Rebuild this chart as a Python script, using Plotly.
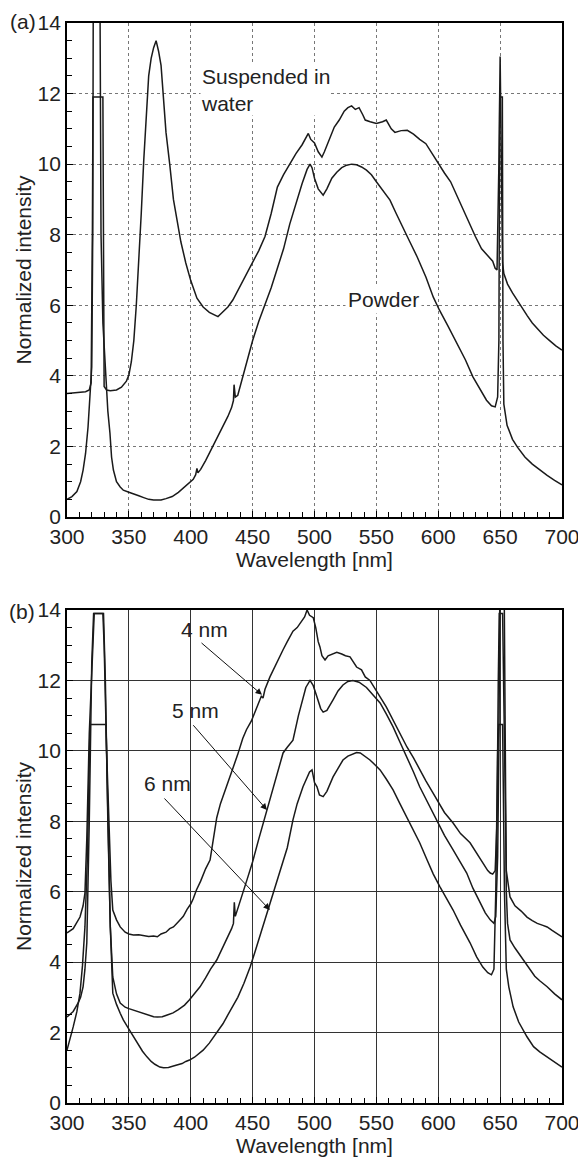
import plotly.graph_objects as go

# ---------------- Panel (a) ----------------
water_wl = [300, 305, 310, 315, 318, 319.5, 320.5, 321, 329, 329.5, 330, 332, 335, 340, 344, 348, 350, 352, 354, 356,
            358, 360, 362, 364, 366, 368, 370, 372, 374, 376, 378, 380, 383, 386, 389, 392, 396, 400, 405, 410,
            415, 420, 422, 425, 430, 434, 440, 445, 450, 455, 460, 465, 470, 475, 480, 485, 490, 493, 495, 497,
            500, 503, 506, 508, 512, 516, 520, 524, 527, 530, 533, 536, 539, 541, 545, 550, 555, 558, 562, 565,
            570, 575, 580, 585, 590, 595, 600, 605, 610, 615, 620, 625, 630, 635, 640, 644, 646, 647.5, 649, 650,
            651, 652, 653, 656, 660, 664, 668, 672, 676, 680, 685, 690, 695, 700]
water_val = [3.50, 3.52, 3.53, 3.55, 3.60, 3.8, 8.0, 11.9, 11.9, 6.0, 3.7, 3.60, 3.58, 3.60, 3.68, 3.85, 4.02, 4.4, 5.0, 6.0,
             7.2, 8.6, 10.1, 11.3, 12.5, 13.0, 13.3, 13.5, 13.2, 12.8, 11.8, 10.9, 10.0, 9.0, 8.4, 7.8, 7.2, 6.7, 6.2, 5.95,
             5.8, 5.72, 5.68, 5.78, 5.95, 6.15, 6.55, 6.9, 7.25, 7.55, 7.95, 8.6, 9.35, 9.7, 10.0, 10.3, 10.55, 10.75, 10.87, 10.7,
             10.6, 10.35, 10.2, 10.35, 10.7, 11.05, 11.25, 11.5, 11.6, 11.65, 11.55, 11.6, 11.4, 11.25, 11.2, 11.15, 11.2, 11.25, 11.0, 10.9,
             10.95, 10.96, 10.85, 10.7, 10.58, 10.3, 10.05, 9.75, 9.5, 9.1, 8.75, 8.3, 7.95, 7.6, 7.4, 7.25, 7.05, 7.0, 10.0, 13.05,
             10.0, 7.2, 6.9, 6.6, 6.35, 6.12, 5.9, 5.7, 5.5, 5.35, 5.15, 5.0, 4.85, 4.73]

powder_wl = [300, 304, 308, 311, 313, 315, 317, 318.5, 320, 320.8, 321.3, 326.5, 327.5, 329, 331, 332, 333, 334.7, 336, 337.5,
             340, 343, 345.5, 350, 354, 358, 362, 366, 370, 373, 376, 380, 385, 390, 394, 398, 402, 404, 405, 405.8,
             408, 412, 416, 421, 425, 430, 433, 434.5, 435, 436, 438, 441, 445, 450, 455, 460, 465, 470, 475, 480,
             485, 490, 494, 496.4, 498, 500, 503, 507, 510, 514, 518, 522, 526, 530, 534, 538, 542, 546, 550, 555,
             561, 566, 571, 577, 583, 590, 596, 601, 608, 615, 622, 628, 634, 639, 643, 646, 648, 649, 649.7, 651.8,
             652.3, 653, 655.6, 660, 664, 670, 676, 682, 688, 694, 700]
powder_val = [0.50, 0.58, 0.72, 1.0, 1.33, 1.8, 2.55, 3.3, 4.25, 8.0, 16.0, 16.0, 8.0, 5.5, 4.3, 3.8, 3.0, 2.38, 1.7, 1.33,
              1.0, 0.85, 0.76, 0.70, 0.66, 0.60, 0.55, 0.50, 0.48, 0.47, 0.48, 0.52, 0.58, 0.70, 0.82, 0.95, 1.07, 1.2, 1.38, 1.25,
              1.35, 1.6, 1.88, 2.2, 2.5, 2.85, 3.1, 3.3, 3.75, 3.4, 3.45, 3.85, 4.4, 5.0, 5.55, 6.0, 6.5, 7.05, 7.6, 8.3,
              8.9, 9.45, 9.85, 10.0, 9.9, 9.6, 9.3, 9.12, 9.3, 9.6, 9.77, 9.9, 9.97, 10.0, 9.98, 9.92, 9.83, 9.7, 9.5, 9.25,
              8.98, 8.6, 8.22, 7.8, 7.37, 6.8, 6.23, 5.86, 5.4, 4.93, 4.45, 3.97, 3.6, 3.31, 3.15, 3.12, 3.4, 5.0, 11.9, 11.9,
              5.0, 3.2, 2.6, 2.2, 1.98, 1.7, 1.5, 1.33, 1.18, 1.04, 0.91]

# ---------------- Panel (b) ----------------
nm4_wl = [300, 305, 310.5, 313, 314.5, 316, 318, 321, 322, 329, 330, 332, 334, 335.5, 337, 340, 343, 347, 350, 353.6,
          358, 362, 366, 370, 373, 376, 380, 383, 386, 390, 394, 397, 400, 402, 404.6, 408, 412, 415.6, 418, 421,
          424, 428, 431, 434, 438, 442, 445, 449, 452, 455, 457, 458.4, 460, 464, 468, 471, 474.6, 478, 482.6, 486,
          489, 492, 494, 496, 499, 501, 503, 504.4, 506, 508.5, 511, 514, 518, 522, 525, 528.7, 531, 534, 538, 541,
          544.8, 548, 553, 558, 563.5, 568, 574.7, 580, 585, 590, 595, 599, 605, 612, 618, 625.7, 630, 636, 640, 642,
          644, 646, 647.5, 648.5, 649.3, 652, 653, 654, 655, 658, 662, 667, 671.7, 676, 680, 684, 688, 692, 696, 700]
nm4_val = [4.83, 4.95, 5.28, 5.6, 5.96, 7.5, 10.5, 13.0, 13.9, 13.9, 13.0, 10.0, 7.5, 6.3, 5.48, 5.2, 5.0, 4.85, 4.8, 4.77,
           4.78, 4.75, 4.73, 4.74, 4.72, 4.8, 4.85, 4.95, 5.0, 5.15, 5.3, 5.5, 5.65, 5.8, 6.05, 6.3, 6.65, 6.9, 7.4, 8.1,
           8.5, 8.9, 9.2, 9.46, 9.9, 10.35, 10.6, 10.85, 11.1, 11.35, 11.55, 11.5, 11.75, 12.1, 12.4, 12.65, 12.87, 13.1, 13.4, 13.5,
           13.65, 13.8, 14.0, 13.85, 13.78, 13.5, 13.1, 12.95, 12.7, 12.58, 12.7, 12.75, 12.8, 12.75, 12.7, 12.67, 12.55, 12.38, 12.3, 12.1,
           12.0, 11.8, 11.53, 11.25, 10.88, 10.6, 10.11, 9.8, 9.46, 9.15, 8.85, 8.6, 8.25, 7.95, 7.65, 7.39, 7.15, 6.82, 6.6, 6.53,
           6.5, 6.6, 8.0, 12.0, 13.9, 13.9, 11.0, 8.0, 6.6, 5.85, 5.6, 5.45, 5.28, 5.18, 5.1, 5.05, 5.0, 4.9, 4.8, 4.72]

nm5_wl = [300, 305, 309, 311, 313, 314.5, 316, 318, 320, 321.5, 329.5, 331, 333, 335, 337, 340, 343, 347, 350, 353.6,
          358, 362, 366, 370, 373, 377, 381, 385.7, 390, 395, 399, 403, 407.5, 412, 416, 421, 425, 430, 433, 434.5,
          435.2, 436, 438, 442, 446, 450, 455, 461.6, 466, 470, 474.6, 478, 482.6, 487, 490.7, 493, 496.4, 499, 502, 505,
          507, 510, 515, 519, 523, 527, 531, 536, 542, 547, 553, 558, 563.5, 569, 574.7, 580, 585, 592, 599, 605,
          612, 618, 623, 628, 634, 638, 642, 645, 646.5, 648, 649, 650, 653, 654, 655, 656, 658, 662, 666, 670,
          674, 678, 682, 688, 694, 700]
nm5_val = [2.44, 2.6, 2.84, 3.0, 3.3, 3.8, 4.55, 8.0, 12.5, 13.9, 13.9, 12.0, 8.0, 5.0, 3.58, 3.1, 2.84, 2.72, 2.68, 2.64,
           2.6, 2.55, 2.5, 2.45, 2.44, 2.45, 2.5, 2.56, 2.65, 2.78, 2.93, 3.1, 3.3, 3.55, 3.8, 4.06, 4.35, 4.7, 4.95, 5.1,
           5.7, 5.3, 5.5, 5.96, 6.4, 6.85, 7.5, 8.32, 8.85, 9.3, 9.94, 10.1, 10.3, 11.0, 11.53, 11.8, 12.0, 11.85, 11.53, 11.2,
           11.1, 11.15, 11.45, 11.7, 11.87, 11.97, 12.0, 11.95, 11.8, 11.6, 11.36, 11.05, 10.68, 10.25, 9.83, 9.4, 8.98, 8.5, 8.04, 7.6,
           7.19, 6.85, 6.53, 6.1, 5.68, 5.4, 5.2, 5.1, 5.3, 7.0, 10.0, 16.0, 16.0, 10.0, 6.0, 5.1, 4.63, 4.4, 4.2, 3.98,
           3.78, 3.6, 3.47, 3.3, 3.1, 2.93]

nm6_wl = [300, 302, 305, 308, 310.5, 312.5, 314.5, 316.5, 318.6, 331.5, 333, 335, 337, 340, 343, 345.5, 350, 353.6, 358, 361,
          364.6, 368, 371, 375, 378, 382, 386, 389, 393, 396, 399, 403, 406, 410, 415, 421, 426, 430, 434, 438,
          443, 448, 452, 456, 461.6, 466, 470, 474.6, 478, 482.6, 486, 490.7, 494, 496, 498, 500, 502, 504, 507, 510,
          515, 519, 523, 527, 531, 534, 537, 541, 544.8, 549, 553, 558, 563.5, 569, 574.7, 580, 585, 591, 596, 601.4,
          606, 612, 618, 625.7, 631, 636, 640, 643, 645, 646.5, 648, 649, 652, 653.5, 655, 657, 660.5, 665, 671.7, 677,
          682, 688, 694, 700]
nm6_val = [1.5, 1.8, 2.16, 2.6, 3.12, 3.9, 5.0, 7.0, 10.75, 10.75, 8.5, 5.0, 3.12, 2.8, 2.55, 2.36, 2.1, 1.88, 1.65, 1.47,
           1.31, 1.18, 1.1, 1.02, 1.0, 1.01, 1.05, 1.08, 1.12, 1.18, 1.22, 1.3, 1.38, 1.5, 1.7, 1.99, 2.25, 2.5, 2.73, 3.0,
           3.4, 3.86, 4.3, 4.75, 5.4, 5.9, 6.35, 6.85, 7.25, 8.04, 8.5, 8.98, 9.25, 9.4, 9.46, 9.1, 8.98, 8.75, 8.7, 8.85,
           9.26, 9.5, 9.74, 9.85, 9.9, 9.95, 9.94, 9.85, 9.74, 9.6, 9.46, 9.2, 8.89, 8.5, 8.12, 7.75, 7.39, 6.9, 6.5, 6.14,
           5.85, 5.48, 5.05, 4.55, 4.15, 3.86, 3.7, 3.64, 3.8, 6.0, 10.0, 10.75, 10.75, 6.0, 3.8, 3.3, 2.73, 2.3, 1.88, 1.6,
           1.45, 1.31, 1.15, 1.02]

x_ticks = [300, 350, 400, 450, 500, 550, 600, 650, 700]
y_ticks = [0, 2, 4, 6, 8, 10, 12, 14]

FONT = "Liberation Sans, Arial, Helvetica, sans-serif"
FS = 21
TXT = "#222222"
LINE = dict(color="#1a1a1a", width=1.5)

fig = go.Figure()
fig.add_trace(go.Scatter(x=water_wl, y=water_val, mode="lines", line=LINE, xaxis="x", yaxis="y", showlegend=False))
fig.add_trace(go.Scatter(x=powder_wl, y=powder_val, mode="lines", line=LINE, xaxis="x", yaxis="y", showlegend=False))
for wl, val in [(nm4_wl, nm4_val), (nm5_wl, nm5_val), (nm6_wl, nm6_val)]:
    fig.add_trace(go.Scatter(x=wl, y=val, mode="lines", line=LINE, xaxis="x2", yaxis="y2", showlegend=False))


def xax(anchor, griddash, gridcolor):
    return dict(anchor=anchor, domain=[0, 1], range=[300, 700], tickvals=x_ticks, automargin=False,
                ticks="inside", ticklen=6, tickcolor="black", showline=True, linecolor="black", linewidth=1.8,
                mirror=True, showgrid=True, gridcolor=gridcolor, griddash=griddash, gridwidth=1, zeroline=False,
                minor=dict(dtick=10, ticks="inside", ticklen=5, tickcolor="black", showgrid=False),
                tickfont=dict(size=FS, color=TXT, family=FONT),
                title=dict(text="Wavelength [nm]", font=dict(size=FS, color=TXT, family=FONT), standoff=2))


def yax(anchor, domain, griddash, gridcolor):
    return dict(anchor=anchor, domain=domain, range=[0, 14], tickvals=y_ticks, automargin=False,
                ticks="inside", ticklen=6, tickcolor="black", showline=True, linecolor="black", linewidth=1.8,
                mirror=True, showgrid=True, gridcolor=gridcolor, griddash=griddash, gridwidth=1, zeroline=False,
                minor=dict(dtick=0.5, ticks="inside", ticklen=5, tickcolor="black", showgrid=False),
                tickfont=dict(size=FS, color=TXT, family=FONT),
                title=dict(text="Normalized intensity", font=dict(size=FS, color=TXT, family=FONT), standoff=0))


# the page body adds an 8px offset; margins compensate so the plot boxes land where the reference has them
fig.update_layout(
    width=586, height=1159,
    margin=dict(l=59, r=32, t=15, b=64),
    paper_bgcolor="white", plot_bgcolor="white",
    font=dict(family=FONT, size=FS, color=TXT),
    xaxis=xax("y", "dot", "#777777"),
    yaxis=yax("x", [0.5426, 1.0], "dot", "#777777"),
    xaxis2=xax("y2", "solid", "#333333"),
    yaxis2=yax("x2", [0.0, 0.4565], "solid", "#333333"),
)

ann = []
# panel labels
ann.append(dict(text="(a)", xref="paper", yref="paper", x=-0.088, y=1.001, showarrow=False,
                font=dict(size=FS, family=FONT, color=TXT), xanchor="center", yanchor="middle"))
ann.append(dict(text="(b)", xref="paper", yref="paper", x=-0.090, y=0.4551, showarrow=False,
                font=dict(size=FS, family=FONT, color=TXT), xanchor="center", yanchor="middle"))
# panel (a) texts
ann.append(dict(text="Suspended in<br>water", xref="x", yref="y", x=407.5, y=12.11, showarrow=False,
                xanchor="left", yanchor="middle", align="left", bgcolor="white", borderpad=0,
                font=dict(size=FS, family=FONT, color=TXT)))
ann.append(dict(text="Powder", xref="x", yref="y", x=524.6, y=6.15, showarrow=False,
                xanchor="left", yanchor="middle", bgcolor="white", borderpad=2,
                font=dict(size=FS, family=FONT, color=TXT)))
# panel (b) labels and arrows
labels_b = [("4 nm", 411.5, 13.44, 407.5, 13.1, 457.6, 11.59),
            ("5 nm", 404.0, 11.14, 401.0, 10.77, 461.6, 8.32),
            ("6 nm", 381.6, 9.06, 377.6, 8.69, 464.0, 5.48)]
for txt, tx, ty, ax0, ay0, hx, hy in labels_b:
    ann.append(dict(text=txt, xref="x2", yref="y2", x=tx, y=ty, showarrow=False,
                    xanchor="center", yanchor="middle", font=dict(size=FS, family=FONT, color=TXT)))
    ann.append(dict(text="", xref="x2", yref="y2", x=hx, y=hy, axref="x2", ayref="y2", ax=ax0, ay=ay0,
                    showarrow=True, arrowhead=2, arrowsize=1.3, arrowwidth=1, arrowcolor="#111"))
fig.update_layout(annotations=ann)

fig.write_html("out.html")
